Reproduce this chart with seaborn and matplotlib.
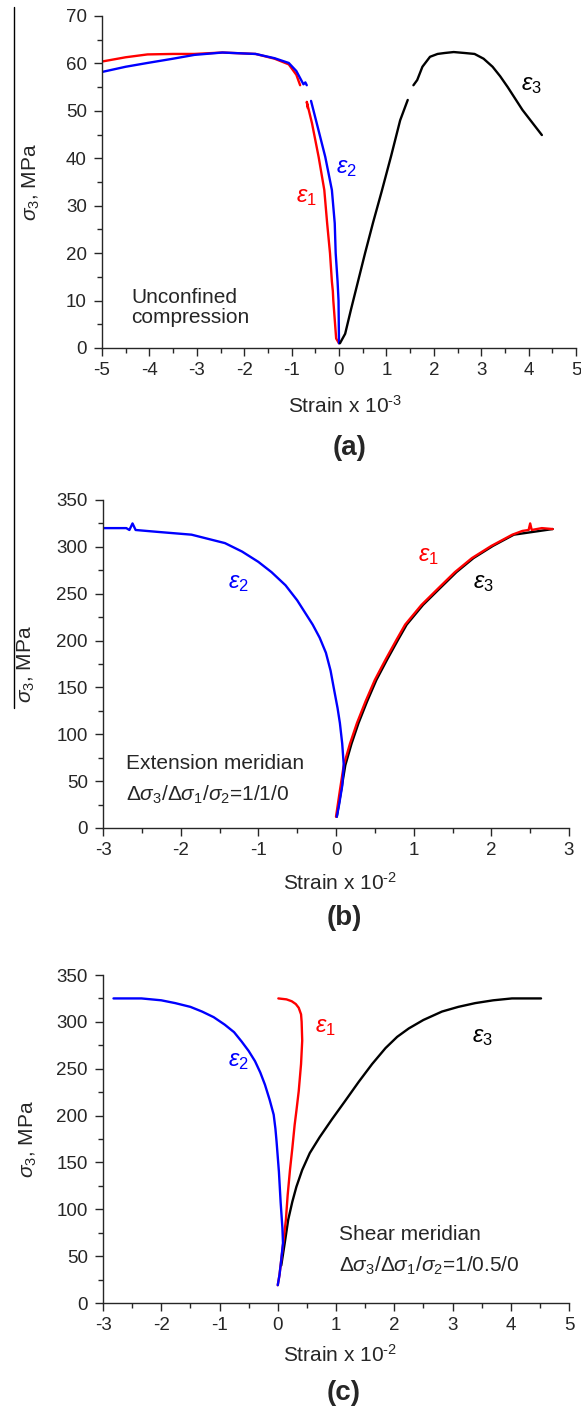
import numpy as np
import pandas as pd
import matplotlib
matplotlib.use("Agg")
import matplotlib.pyplot as plt
from matplotlib.lines import Line2D
from matplotlib.ticker import MultipleLocator
import seaborn as sns

sns.set_style("ticks")
plt.rcParams['font.family'] = ['Liberation Sans', 'DejaVu Sans']
plt.rcParams['mathtext.fontset'] = 'custom'
plt.rcParams['mathtext.rm'] = 'Liberation Sans'
plt.rcParams['mathtext.it'] = 'Liberation Sans:italic'
plt.rcParams['mathtext.bf'] = 'Liberation Sans:bold'
plt.rcParams['axes.unicode_minus'] = False

RED, BLUE, BLACK = "#ff0000", "#0000ff", "#000000"

# ---------------- Panel (a): unconfined compression, strain x 1e-3 ----------------
a_e1_hi_x = [-5.0, -4.5, -4.04, -3.5, -3.05, -2.46, -2.0, -1.76, -1.36, -1.06, -0.9, -0.82]
a_e1_hi_y = [60.4, 61.3, 61.9, 62.0, 62.0, 62.3, 62.1, 62.0, 61.0, 59.8, 57.6, 55.4]
a_e1_lo_x = [-0.66, -0.68, -0.57, -0.43, -0.31, -0.25, -0.19, -0.15, -0.13, -0.12, -0.06, 0.0]
a_e1_lo_y = [50.6, 51.9, 47.4, 40.3, 33.3, 26.3, 20.0, 14.0, 12.0, 10.0, 2.0, 1.0]
a_e2_hi_x = [-5.0, -4.5, -4.04, -3.5, -3.05, -2.46, -2.0, -1.76, -1.36, -1.06, -0.9, -0.75,
             -0.71, -0.68]
a_e2_hi_y = [58.2, 59.3, 60.1, 61.0, 61.8, 62.3, 62.1, 62.0, 61.1, 60.1, 58.4, 55.6, 56.0, 55.4]
a_e2_lo_x = [-0.59, -0.47, -0.29, -0.15, -0.09, -0.07, -0.03, -0.01, 0.0]
a_e2_lo_y = [52.1, 47.4, 40.3, 33.3, 26.3, 20.0, 14.0, 10.0, 1.0]
a_e3_lo_x = [0.02, 0.13, 0.25, 0.40, 0.55, 0.72, 0.90, 1.10, 1.29, 1.45]
a_e3_lo_y = [1.0, 3.0, 8.0, 14.0, 20.0, 26.5, 33.0, 40.5, 48.0, 52.3]
a_e3_hi_x = [1.57, 1.65, 1.76, 1.92, 2.08, 2.23, 2.42, 2.65, 2.86, 3.05, 3.24, 3.40, 3.56,
             3.87, 4.28]
a_e3_hi_y = [55.4, 56.5, 59.3, 61.4, 62.0, 62.2, 62.4, 62.2, 62.0, 61.0, 59.3, 57.3, 55.0,
             50.2, 44.9]

# ---------------- Panel (b): extension meridian, strain x 1e-2 ----------------
b_e2_x = [-3.0, -2.70, -2.66, -2.62, -2.58, -2.3, -1.86, -1.43, -1.21, -1.0, -0.83, -0.65,
          -0.50, -0.40, -0.30, -0.21, -0.13, -0.07, -0.03, 0.02, 0.05, 0.08, 0.10, 0.08,
          0.04, 0.01]
b_e2_y = [320, 320, 318, 325, 318, 316, 313, 304, 295, 284, 273, 259, 243, 230, 217, 203,
          187, 168, 150, 128, 112, 90, 67, 45, 25, 12]
b_e1_x = [0.0, 0.05, 0.10, 0.18, 0.27, 0.38, 0.50, 0.64, 0.78, 0.89, 1.10, 1.32, 1.53, 1.75,
          2.00, 2.27, 2.40, 2.48, 2.50, 2.52, 2.65, 2.79]
b_e1_y = [12, 40, 67, 90, 112, 135, 158, 180, 201, 217, 238, 256, 273, 288, 301, 313, 317,
          318, 325, 318, 320, 319]
b_e3_x = [0.01, 0.12, 0.20, 0.29, 0.40, 0.52, 0.66, 0.80, 0.91, 1.12, 1.34, 1.55, 1.77, 2.02,
          2.29, 2.79]
b_e3_y = [12, 67, 90, 112, 135, 158, 180, 201, 217, 238, 256, 273, 288, 301, 313, 319]

# ---------------- Panel (c): shear meridian, strain x 1e-2 ----------------
c_e2_x = [-2.82, -2.34, -2.0, -1.76, -1.50, -1.30, -1.10, -0.91, -0.75, -0.62, -0.50, -0.39,
          -0.30, -0.22, -0.14, -0.07, -0.04, -0.02, 0.0, 0.02, 0.05, 0.08, 0.09, 0.06, 0.03, 0.0]
c_e2_y = [325, 325, 323, 320, 316, 311, 305, 297, 289, 279, 269, 258, 246, 233, 217, 201,
          186, 172, 156, 140, 107, 80, 64, 46, 30, 19]
c_e1_x = [0.01, 0.15, 0.24, 0.31, 0.36, 0.40, 0.41, 0.42, 0.40, 0.36, 0.32, 0.29, 0.25, 0.21,
          0.17, 0.14, 0.10, 0.06, 0.03, 0.0]
c_e1_y = [325, 324, 322, 319, 315, 308, 300, 280, 255, 226, 205, 190, 165, 142, 115, 89, 67,
          46, 30, 19]
c_e3_x = [0.06, 0.09, 0.12, 0.18, 0.25, 0.32, 0.42, 0.55, 0.72, 0.93, 1.15, 1.39, 1.62, 1.85,
          2.05, 2.25, 2.50, 2.82, 3.10, 3.39, 3.70, 4.02, 4.52]
c_e3_y = [40, 52, 64, 89, 108, 124, 142, 160, 177, 196, 215, 236, 255, 272, 284, 293, 302,
          311, 316, 320, 323, 325, 325]

W, H = 581, 1412
fig = plt.figure(figsize=(W / 100, H / 100), dpi=100)


def add_ax(l, r, t, b):
    return fig.add_axes([l / W, 1 - b / H, (r - l) / W, (b - t) / H])


def curve(ax, xs, ys, color):
    df = pd.DataFrame({"x": xs, "y": ys})
    sns.lineplot(data=df, x="x", y="y", sort=False, estimator=None, color=color,
                 lw=1.7, ax=ax, legend=False)


TICK_FS = 13.5
def style(ax, xlim, ylim, xmaj, ymaj):
    ax.set_xlim(*xlim)
    ax.set_ylim(*ylim)
    ax.xaxis.set_major_locator(MultipleLocator(xmaj))
    ax.xaxis.set_minor_locator(MultipleLocator(xmaj / 2))
    ax.yaxis.set_major_locator(MultipleLocator(ymaj))
    ax.yaxis.set_minor_locator(MultipleLocator(ymaj / 2))
    sns.despine(ax=ax)
    ax.tick_params(which='major', direction='out', length=6, width=1, labelsize=TICK_FS)
    ax.tick_params(axis='y', which='major', pad=5)
    ax.tick_params(axis='x', which='major', pad=4)
    ax.tick_params(which='minor', direction='out', length=3.5, width=1)
    for s in ("left", "bottom"):
        ax.spines[s].set_linewidth(1.0)
    ax.set_xlabel("")
    ax.set_ylabel("")


def ftext(x, y, s, **kw):
    fig.text(x / W, 1 - y / H, s, **kw)


FS = 15
EFS = 17
BFS = 20
HY = "\u2010"
YLAB = r"$\sigma_3$, MPa"
# ---------- (a)
ax = add_ax(102, 576, 16, 348)
curve(ax, a_e1_hi_x, a_e1_hi_y, RED)
curve(ax, a_e2_hi_x, a_e2_hi_y, BLUE)
curve(ax, a_e1_lo_x, a_e1_lo_y, RED)
curve(ax, a_e2_lo_x, a_e2_lo_y, BLUE)
curve(ax, a_e3_lo_x, a_e3_lo_y, BLACK)
curve(ax, a_e3_hi_x, a_e3_hi_y, BLACK)
style(ax, (-5, 5), (0, 70), 1, 10)
ax.text(4.06, 55.4, r"$\varepsilon_3$", color=BLACK, fontsize=EFS, ha='center', va='center')
ax.text(0.16, 37.9, r"$\varepsilon_2$", color=BLUE, fontsize=EFS, ha='center', va='center')
ax.text(-0.68, 31.9, r"$\varepsilon_1$", color=RED, fontsize=EFS, ha='center', va='center')
ax.text(-4.38, 8.5, "Unconfined\ncompression", fontsize=FS, ha='left', va='center',
        linespacing=1.05)
ftext(31, 182, YLAB, rotation=90, ha='center', va='center', fontsize=FS)
ftext(345, 406, "Strain x 10$^{\\mathregular{" + HY + "3}}$", ha='center', va='center',
      fontsize=FS)
ftext(350, 448, "(a)", ha='center', va='center', fontsize=BFS, fontweight='bold')

# ---------- (b)
ax = add_ax(103, 569, 500, 828)
curve(ax, b_e3_x, b_e3_y, BLACK)
curve(ax, b_e1_x, b_e1_y, RED)
curve(ax, b_e2_x, b_e2_y, BLUE)
style(ax, (-3, 3), (0, 350), 1, 50)
ax.text(1.19, 290, r"$\varepsilon_1$", color=RED, fontsize=EFS, ha='center', va='center')
ax.text(1.90, 261, r"$\varepsilon_3$", color=BLACK, fontsize=EFS, ha='center', va='center')
ax.text(-1.26, 261, r"$\varepsilon_2$", color=BLUE, fontsize=EFS, ha='center', va='center')
ax.text(-2.71, 69, "Extension meridian", fontsize=FS, ha='left', va='center')
ax.text(-2.71, 35, r"$\Delta\sigma_3/\Delta\sigma_1/\sigma_2$=1/1/0", fontsize=FS,
        ha='left', va='center')
ftext(26, 664, YLAB, rotation=90, ha='center', va='center', fontsize=FS)
ftext(340, 883, "Strain x 10$^{\\mathregular{" + HY + "2}}$", ha='center', va='center',
      fontsize=FS)
ftext(344, 918, "(b)", ha='center', va='center', fontsize=BFS, fontweight='bold')

# ---------- (c)
ax = add_ax(103, 569, 975, 1303)
curve(ax, c_e3_x, c_e3_y, BLACK)
curve(ax, c_e1_x, c_e1_y, RED)
curve(ax, c_e2_x, c_e2_y, BLUE)
style(ax, (-3, 5), (0, 350), 1, 50)
ax.text(0.81, 295, r"$\varepsilon_1$", color=RED, fontsize=EFS, ha='center', va='center')
ax.text(3.51, 284, r"$\varepsilon_3$", color=BLACK, fontsize=EFS, ha='center', va='center')
ax.text(-0.67, 258, r"$\varepsilon_2$", color=BLUE, fontsize=EFS, ha='center', va='center')
ax.text(1.05, 72.6, "Shear meridian", fontsize=FS, ha='left', va='center')
ax.text(1.05, 40, r"$\Delta\sigma_3/\Delta\sigma_1/\sigma_2$=1/0.5/0", fontsize=FS,
        ha='left', va='center')
ftext(28, 1139, YLAB, rotation=90, ha='center', va='center', fontsize=FS)
ftext(340, 1355, "Strain x 10$^{\\mathregular{" + HY + "2}}$", ha='center', va='center',
      fontsize=FS)
ftext(344, 1393, "(c)", ha='center', va='center', fontsize=BFS, fontweight='bold')

# thin vertical rule at the left edge (present in the reference scan)
fig.add_artist(Line2D([13.5 / W, 13.5 / W], [1 - 7 / H, 1 - 708 / H], color='black', lw=1.0))

fig.savefig("out.png", dpi=100)
